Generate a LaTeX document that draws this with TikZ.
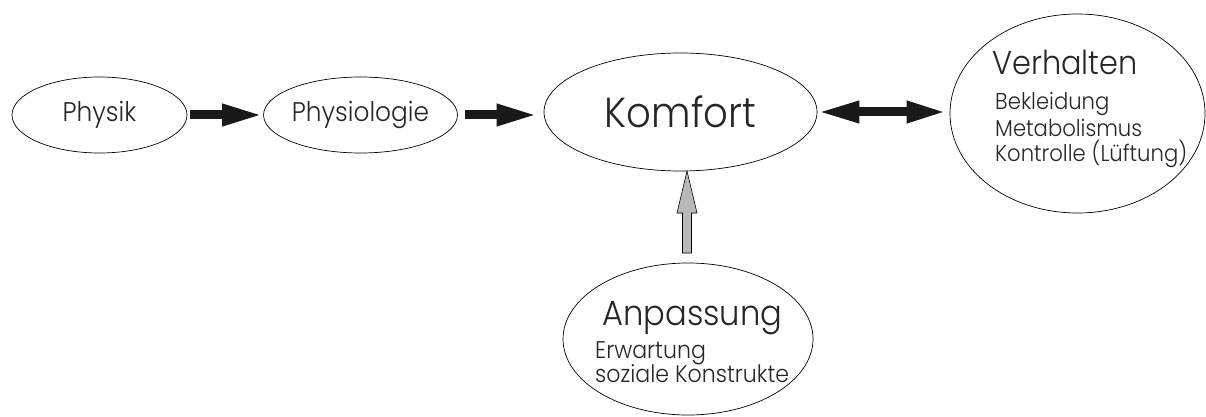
\documentclass[tikz,border=0pt]{standalone}
\usepackage{fontspec}
\setmainfont{Poppins}[UprightFont=* Light, FakeStretch=0.92]
\usetikzlibrary{shapes.geometric}
\usetikzlibrary{arrows.meta}
\usetikzlibrary{calc}
\tikzset{>=latex}
\tikzset{
  bubble/.style={draw, ellipse, inner sep=0pt, line width=0.7pt, text=black!85},
  textline/.style={anchor=base west, inner sep=0pt, text=black!85},
  blockarrow/.style={line width=9pt, -{Triangle[length=41pt,width=20pt]}, black!90},
  twoway/.style={line width=9pt, {Triangle[length=42pt,width=20pt]}-{Triangle[length=40pt,width=20pt]}, black!90}
}
\newcommand{\fs}[1]{\fontsize{#1}{#1}\selectfont}

\begin{document}
\begin{tikzpicture}[x=1pt,y=-1pt]
  \useasboundingbox (0,0) rectangle (1206,417);
  % main row
  \node[bubble, minimum width=175pt, minimum height=76pt, font=\fs{27}] (physik) at (99.5,115) {Physik};
  \node[bubble, minimum width=175pt, minimum height=76pt, font=\fs{27}] (physiologie) at (360.5,115) {Physiologie};
  \node[bubble, minimum width=273pt, minimum height=118pt, font=\fs{42}] (komfort) at (680.5,112) {Komfort};
  \node[bubble, minimum width=255pt, minimum height=199pt] (verhalten) at (1077.5,113.5) {};
  \node[bubble, minimum width=250pt, minimum height=152pt] (anpassung) at (688,339) {};
  % texts inside the big ellipses
  \node[textline, font=\fs{33}] (verhaltentitle) at (992,75) {Verhalten};
  \node[textline, font=\fs{23}] (bekleidung) at (995,110) {Bekleidung};
  \node[textline, font=\fs{23}] (metabolismus) at (995,136) {Metabolismus};
  \node[textline, font=\fs{23}] (kontrolle) at (995,161) {Kontrolle (Lüftung)};
  \node[textline, font=\fs{35}] (anpassungtitle) at (602,325) {Anpassung};
  \node[textline, font=\fs{24}] (erwartung) at (595,358) {Erwartung};
  \node[textline, font=\fs{24}] (soziale) at (595,382) {soziale Konstrukte};
  % arrows
  \draw[blockarrow, shorten <=3pt] (physik) -- (physiologie);
  \draw[blockarrow, shorten <=7pt, shorten >=6pt] (physiologie.east) -- (physiologie.east -| komfort.west);
  \draw[twoway, shorten >=3pt] (komfort.east) -- (komfort.east -| verhalten.west);
  \coordinate (gtip) at (687,171);
  \coordinate (gfoot) at (687,253);
  \draw[fill=gray!55, line width=0.6pt] ($(gfoot)+(-4.5,0)$) -- ($(gfoot)+(4.5,0)$) -- ($(gfoot)+(4.5,-40)$)
    -- ($(gfoot)+(10,-40)$) -- (gtip) -- ($(gfoot)+(-10,-40)$) -- ($(gfoot)+(-4.5,-40)$) -- cycle;
\end{tikzpicture}
\end{document}
